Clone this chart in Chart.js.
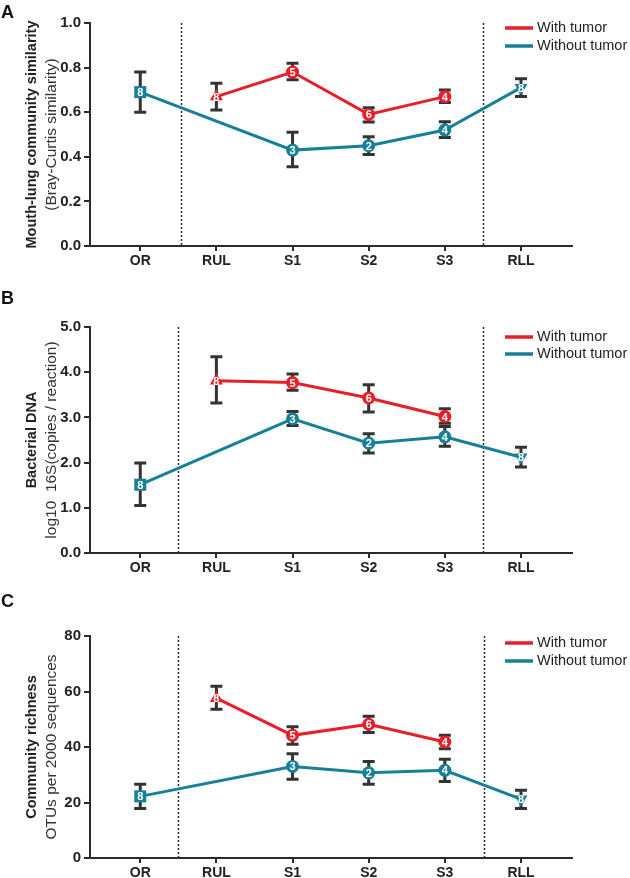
<!DOCTYPE html>
<html>
<head>
<meta charset="utf-8">
<script src="https://cdn.jsdelivr.net/npm/chart.js@4.4.1/dist/chart.umd.min.js"></script>
<style>
body { margin: 0; background: #fff; }
canvas { position: absolute; left: 0; }
</style>
</head>
<body>
<canvas id="chartA" width="630" height="280" style="top:0px"></canvas>
<canvas id="chartB" width="630" height="300" style="top:280px"></canvas>
<canvas id="chartC" width="630" height="298" style="top:580px"></canvas>
<script>
// categories and series
const categories = ['OR', 'RUL', 'S1', 'S2', 'S3', 'RLL'];
const seriesNames = ['With tumor', 'Without tumor'];
const countsTumor = [null, 8, 5, 6, 4, null];
const countsFree = [8, null, 3, 2, 4, 8];

// A: mouth-lung similarity
const simTicks = [0, 0.2, 0.4, 0.6, 0.8, 1.0];
const simTumor = [null, 0.67, 0.78, 0.59, 0.67, null];
const simTumorLow = [null, 0.61, 0.745, 0.556, 0.643, null];
const simTumorHigh = [null, 0.73, 0.82, 0.62, 0.70, null];
const simFree = [0.69, null, 0.43, 0.45, 0.52, 0.71];
const simFreeLow = [0.60, null, 0.355, 0.41, 0.486, 0.67];
const simFreeHigh = [0.78, null, 0.51, 0.49, 0.557, 0.75];

// B: bacterial DNA
const dnaTicks = [0, 1, 2, 3, 4, 5];
const dnaTumor = [null, 3.81, 3.77, 3.43, 3.02, null];
const dnaTumorLow = [null, 3.32, 3.60, 3.12, 2.87, null];
const dnaTumorHigh = [null, 4.34, 3.96, 3.72, 3.19, null];
const dnaFree = [1.51, null, 2.97, 2.43, 2.57, 2.12];
const dnaFreeLow = [1.05, null, 2.82, 2.21, 2.36, 1.90];
const dnaFreeHigh = [1.99, null, 3.13, 2.64, 2.80, 2.34];

// C: community richness
const richTicks = [0, 20, 40, 60, 80];
const richTumor = [null, 57.6, 44.2, 48.2, 41.8, null];
const richTumorLow = [null, 53.6, 41.0, 45.2, 39.4, null];
const richTumorHigh = [null, 61.9, 47.3, 51.1, 44.2, null];
const richFree = [22.2, null, 33.0, 30.7, 31.6, 21.2];
const richFreeLow = [17.8, null, 28.4, 26.6, 27.6, 17.8];
const richFreeHigh = [26.6, null, 37.6, 34.8, 35.6, 24.4];

const RED = 'rgb(232, 30, 40)';
const TEAL = 'rgb(22, 128, 152)';
const INK = '#2b2b2b';
const FONT = "'Liberation Sans', Arial, sans-serif";

// markers: square for OR, triangles for the lobes, circles for segments
function markerStyle(i) {
    if (i === 0) return 'rect';
    if (i === 1 || i === 5) return 'triangle';
    return 'circle';
}
function markerRadius(i) {
    if (i === 0) return 8.5;
    if (i === 1 || i === 5) return 7.5;
    return 6.5;
}

const decor = {
    id: 'decor',
    beforeDatasetsDraw(chart, args, opts) {
        const ctx = chart.ctx, area = chart.chartArea;
        const x = chart.scales.x, y = chart.scales.y;
        ctx.save();
        // dotted dividers
        ctx.strokeStyle = INK;
        ctx.lineWidth = 1.5;
        ctx.setLineDash([2, 2]);
        opts.dividers.forEach(d => {
            const px = Math.round(x.getPixelForValue(d)) + 0.5;
            ctx.beginPath();
            ctx.moveTo(px, area.top);
            ctx.lineTo(px, area.bottom);
            ctx.stroke();
        });
        ctx.setLineDash([]);
        // error bars
        ctx.strokeStyle = '#333';
        ctx.lineWidth = 3;
        chart.data.datasets.forEach(ds => {
            ds.errLow.forEach((lo, i) => {
                const hi = ds.errHigh[i];
                if (lo == null || hi == null) return;
                const px = x.getPixelForValue(i);
                const y1 = y.getPixelForValue(lo), y2 = y.getPixelForValue(hi);
                ctx.beginPath();
                ctx.moveTo(px, y1); ctx.lineTo(px, y2);
                ctx.moveTo(px - 6, y1); ctx.lineTo(px + 6, y1);
                ctx.moveTo(px - 6, y2); ctx.lineTo(px + 6, y2);
                ctx.stroke();
            });
        });
        ctx.restore();
    },
    afterDatasetsDraw(chart) {
        const ctx = chart.ctx;
        ctx.save();
        ctx.fillStyle = '#fff';
        ctx.font = 'bold 11px ' + FONT;
        ctx.textAlign = 'center';
        ctx.textBaseline = 'middle';
        chart.data.datasets.forEach((ds, di) => {
            const meta = chart.getDatasetMeta(di);
            ds.counts.forEach((n, i) => {
                if (n == null) return;
                const pt = meta.data[i];
                ctx.fillText(String(n), pt.x, pt.y + 1);
            });
        });
        ctx.restore();
    },
    afterDraw(chart, args, opts) {
        const ctx = chart.ctx, area = chart.chartArea;
        const cy = (area.top + area.bottom) / 2;
        ctx.save();
        // panel letter
        ctx.fillStyle = '#111';
        ctx.font = 'bold 18px ' + FONT;
        ctx.textAlign = 'left';
        ctx.textBaseline = 'top';
        ctx.fillText(opts.letter, 1, opts.letterY);
        // axis titles
        ctx.textAlign = 'center';
        ctx.textBaseline = 'middle';
        ctx.translate(32, cy);
        ctx.rotate(-Math.PI / 2);
        ctx.fillStyle = '#222';
        ctx.font = 'bold 14.5px ' + FONT;
        ctx.fillText(opts.titleBold, 0, 0);
        ctx.fillStyle = '#333';
        ctx.font = '15.5px ' + FONT;
        ctx.fillText(opts.titleNormal, 0, 20);
        ctx.restore();
        // legend
        ctx.save();
        ctx.font = '14.5px ' + FONT;
        ctx.textAlign = 'left';
        ctx.textBaseline = 'middle';
        chart.data.datasets.forEach((ds, i) => {
            const ly = area.top + opts.legendY[i];
            ctx.strokeStyle = ds.borderColor;
            ctx.lineWidth = 3.5;
            ctx.beginPath();
            ctx.moveTo(505, ly); ctx.lineTo(533, ly);
            ctx.stroke();
            ctx.fillStyle = '#222';
            ctx.fillText(ds.label, 537, ly);
        });
        ctx.restore();
    }
};

function buildPanel(id, p) {
    const series = [
        { label: seriesNames[0], values: p.tumor, low: p.tumorLow, high: p.tumorHigh, counts: countsTumor, color: RED },
        { label: seriesNames[1], values: p.free, low: p.freeLow, high: p.freeHigh, counts: countsFree, color: TEAL }
    ];
    return new Chart(document.getElementById(id), {
        type: 'line',
        data: {
            datasets: series.map(s => ({
                label: s.label,
                data: s.values.map((v, i) => ({ x: i, y: v })),
                errLow: s.low,
                errHigh: s.high,
                counts: s.counts,
                borderColor: s.color,
                backgroundColor: s.color,
                borderWidth: 3,
                spanGaps: true,
                tension: 0,
                pointStyle: categories.map((c, i) => markerStyle(i)),
                pointRadius: categories.map((c, i) => markerRadius(i)),
                pointRotation: categories.map((c, i) => (i === 5 ? 180 : 0)),
                pointBorderWidth: 0,
                pointHoverRadius: categories.map((c, i) => markerRadius(i))
            }))
        },
        options: {
            responsive: false,
            animation: false,
            events: [],
            layout: { padding: { top: p.top, right: 58, left: 0, bottom: 0 } },
            plugins: {
                legend: { display: false },
                tooltip: { enabled: false },
                decor: {
                    letter: p.letter,
                    letterY: p.letterY,
                    titleBold: p.titleBold,
                    titleNormal: p.titleNormal,
                    dividers: p.dividers,
                    legendY: p.legendY
                }
            },
            scales: {
                x: {
                    type: 'linear',
                    min: -0.66,
                    max: 5.67,
                    afterBuildTicks: scale => { scale.ticks = categories.map((c, i) => ({ value: i })); },
                    afterFit: scale => { scale.height = p.xHeight; },
                    ticks: {
                        callback: v => categories[v],
                        color: '#222',
                        font: { family: FONT, size: 14, weight: 'bold' },
                        padding: 2,
                        maxRotation: 0
                    },
                    grid: { drawOnChartArea: false, color: INK, lineWidth: 2, tickLength: 5 },
                    border: { color: INK, width: 2 }
                },
                y: {
                    min: p.ticks[0],
                    max: p.ticks[p.ticks.length - 1],
                    afterBuildTicks: scale => { scale.ticks = p.ticks.map(v => ({ value: v })); },
                    afterFit: scale => { scale.width = 90; },
                    ticks: {
                        callback: v => p.fmt(v),
                        color: '#222',
                        font: { family: FONT, size: 15, weight: 'bold' },
                        padding: 3
                    },
                    grid: { drawOnChartArea: false, color: INK, lineWidth: 2, tickLength: 6 },
                    border: { color: INK, width: 2 }
                }
            }
        },
        plugins: [decor]
    });
}

buildPanel('chartA', {
    letter: 'A', letterY: 4, top: 23, xHeight: 34,
    titleBold: 'Mouth-lung community similarity',
    titleNormal: '(Bray-Curtis similarity)',
    ticks: simTicks, fmt: v => v.toFixed(1),
    tumor: simTumor, tumorLow: simTumorLow, tumorHigh: simTumorHigh,
    free: simFree, freeLow: simFreeLow, freeHigh: simFreeHigh,
    dividers: [0.54, 4.5], legendY: [5, 23]
});

buildPanel('chartB', {
    letter: 'B', letterY: 10, top: 47, xHeight: 27,
    titleBold: 'Bacterial DNA',
    titleNormal: 'log10  16S(copies / reaction)',
    ticks: dnaTicks, fmt: v => v.toFixed(1),
    tumor: dnaTumor, tumorLow: dnaTumorLow, tumorHigh: dnaTumorHigh,
    free: dnaFree, freeLow: dnaFreeLow, freeHigh: dnaFreeHigh,
    dividers: [0.5, 4.5], legendY: [10, 27]
});

buildPanel('chartC', {
    letter: 'C', letterY: 13, top: 56, xHeight: 20,
    titleBold: 'Community richness',
    titleNormal: 'OTUs per 2000 sequences',
    ticks: richTicks, fmt: v => String(v),
    tumor: richTumor, tumorLow: richTumorLow, tumorHigh: richTumorHigh,
    free: richFree, freeLow: richFreeLow, freeHigh: richFreeHigh,
    dividers: [0.5, 4.51], legendY: [7, 25]
});
</script>
</body>
</html>
